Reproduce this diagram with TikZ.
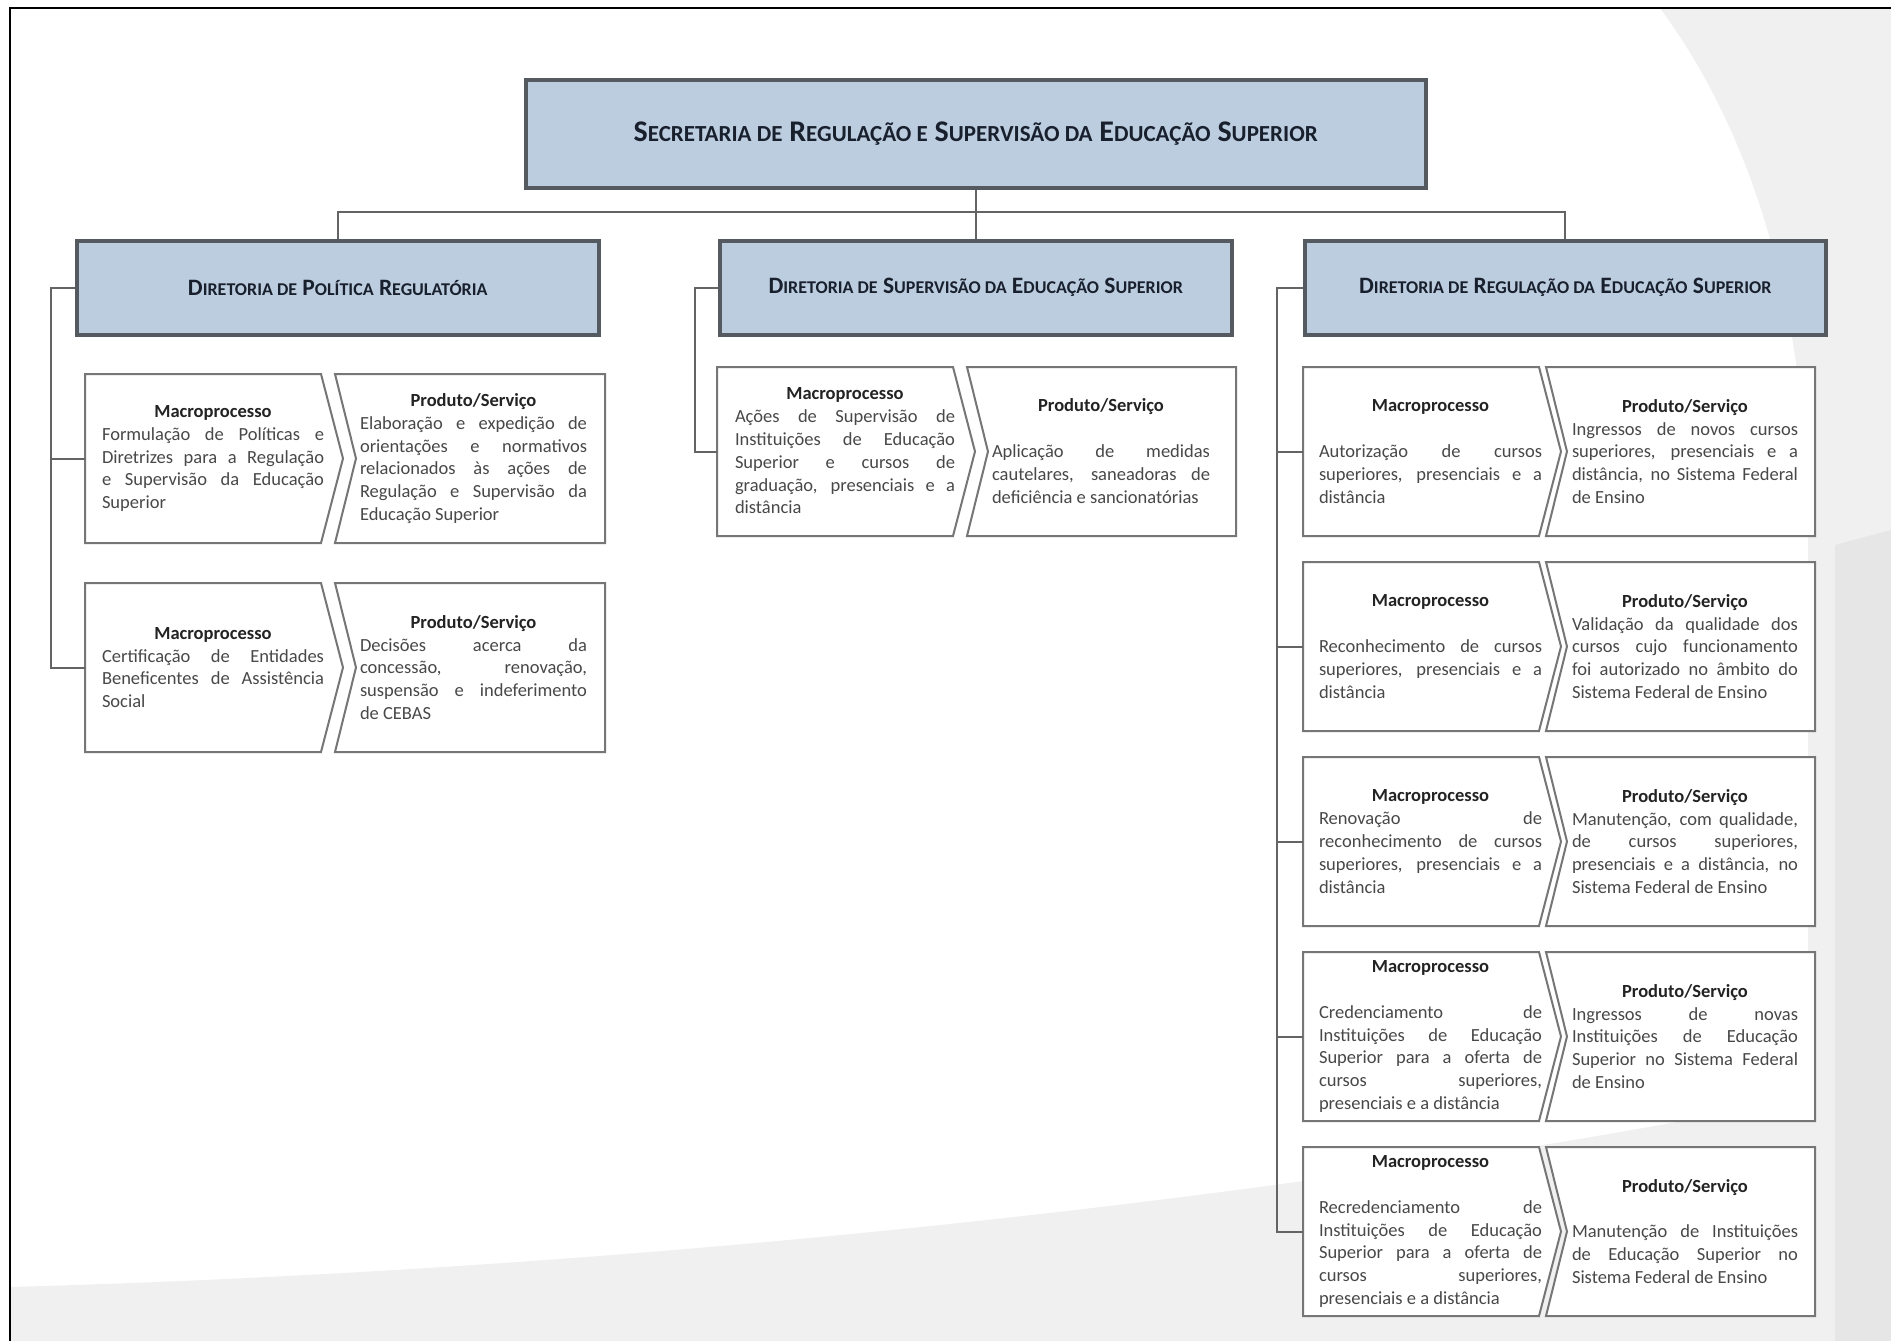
\documentclass[tikz,border=0pt]{standalone}
\usepackage{fontspec}
\setmainfont{Carlito}
\definecolor{dirfill}{RGB}{189,205,224}
\definecolor{dirline}{RGB}{85,90,97}
\definecolor{rowline}{RGB}{118,118,118}
\definecolor{treeline}{RGB}{100,100,100}
\definecolor{bodytext}{RGB}{72,72,72}
\definecolor{headtext}{RGB}{35,35,35}
\definecolor{titletext}{RGB}{25,32,45}
\definecolor{swoosh}{RGB}{240,240,240}
\definecolor{swooshdk}{RGB}{230,230,230}
\newcommand\SCt[1]{{\fontsize{23}{28}\selectfont #1}}
\newcommand\SCd[1]{{\fontsize{18}{22}\selectfont #1}}
\newcommand\mhead{\makebox[\linewidth]{\color{headtext}\bfseries Macroprocesso}\par}
\newcommand\phead{\makebox[\linewidth]{\color{headtext}\bfseries Produto/Serviço}\par}
\newcommand\blankline{\mbox{}\par}
\newcommand\pairbox[5]{%
  \node[shapebox, minimum width=236, anchor=north west] (#1m) at (#2,#3) {};
  \node[shapebox, minimum width=#4, anchor=north west] (#1p) at (#2+#5,#3) {};
  \draw[rowbox] (#1m.north west) -- (#1m.north east) -- ([xshift=22]#1m.east) -- (#1m.south east) -- (#1m.south west) -- cycle;
  \draw[rowbox] (#1p.north west) -- (#1p.north east) -- (#1p.south east) -- (#1p.south west) -- ([xshift=21]#1p.west) -- cycle;
}
\tikzset{
  shapebox/.style={inner sep=0, outer sep=0, minimum height=169, draw=none},
  rowbox/.style={draw=rowline, line width=2, fill=white, line join=miter},
  dirbox/.style={draw=dirline, line width=3.5, fill=dirfill, minimum height=94, inner sep=0, anchor=north west, font=\fontsize{23.5}{27}\selectfont\bfseries, text=titletext},
  mtext/.style={inner sep=0, align=justify, font=\fontsize{18.5}{22.8}\selectfont, text=bodytext, anchor=center},
  tree/.style={draw=treeline, line width=2}
}
\begin{document}
\begin{tikzpicture}[x=1pt, y=-1pt]
\useasboundingbox (0,0) rectangle (1891,1341);
\fill[white] (0,0) rectangle (1891,1341);
% background swooshes
\fill[swoosh] (1660,8) .. controls (1750,130) and (1805,300) .. (1808,520) -- (1808,1341) -- (1891,1341) -- (1891,8) -- cycle;
\fill[swoosh] (10,1287) .. controls (700,1268) and (1400,1185) .. (1891,1080) -- (1891,1341) -- (10,1341) -- cycle;
\fill[swooshdk] (1835,545) -- (1891,530) -- (1891,1341) -- (1835,1341) -- cycle;
% frame
\draw[black, line width=2.5] (10,1341) -- (10,8) -- (1891,8);

% directorates
\node[dirbox, minimum width=900, minimum height=108, font=\fontsize{30}{34}\selectfont\bfseries] (top) at (524,78)
  {S\SCt{ECRETARIA DE} R\SCt{EGULAÇÃO E} S\SCt{UPERVISÃO DA} E\SCt{DUCAÇÃO} S\SCt{UPERIOR}};
\node[dirbox, minimum width=522] (dirL) at (75,239) {D\SCd{IRETORIA DE} P\SCd{OLÍTICA} R\SCd{EGULATÓRIA}};
\node[dirbox, minimum width=512] (dirM) at (718,239) {D\SCd{IRETORIA DE} S\SCd{UPERVISÃO DA} E\SCd{DUCAÇÃO} S\SCd{UPERIOR}};
\node[dirbox, minimum width=521] (dirR) at (1303,239) {D\SCd{IRETORIA DE} R\SCd{EGULAÇÃO DA} E\SCd{DUCAÇÃO} S\SCd{UPERIOR}};

% left column
\pairbox{a}{85}{374}{270}{250}
\node[mtext, text width=222] (atm) at (213,458.5) {\mhead Formulação de Políticas e\linebreak Diretrizes para a Regulação\linebreak e Supervisão da Educação\linebreak Superior};
\node[mtext, text width=227] (atp) at (473.5,458.5) {\phead Elaboração e expedição de\linebreak orientações e normativos\linebreak relacionados às ações de\linebreak Regulação e Supervisão da\linebreak Educação Superior};
\pairbox{b}{85}{583}{270}{250}
\node[mtext, text width=222] (btm) at (213,667.5) {\mhead Certificação de Entidades\linebreak Beneficentes de Assistência\linebreak Social};
\node[mtext, text width=227] (btp) at (473.5,667.5) {\phead Decisões acerca da\linebreak concessão, renovação,\linebreak suspensão e indeferimento\linebreak de CEBAS};

% middle column
\pairbox{c}{717}{367}{269}{250}
\node[mtext, text width=220] (ctm) at (845,451) {\mhead Ações de Supervisão de\linebreak Instituições de Educação\linebreak Superior e cursos de\linebreak graduação, presenciais e a\linebreak distância};
\node[mtext, text width=218] (ctp) at (1101,451) {\phead\blankline Aplicação de medidas\linebreak cautelares, saneadoras de\linebreak deficiência e sancionatórias};

% right column
\pairbox{d}{1303}{367}{269}{243}
\node[mtext, text width=223] (dtm) at (1430.5,451.5) {\mhead\blankline Autorização de cursos\linebreak superiores, presenciais e a\linebreak distância};
\node[mtext, text width=226] (dtp) at (1685,451.5) {\phead Ingressos de novos cursos\linebreak superiores, presenciais e a\linebreak distância, no Sistema Federal\linebreak de Ensino};
\pairbox{e}{1303}{562}{269}{243}
\node[mtext, text width=223] (etm) at (1430.5,646.5) {\mhead\blankline Reconhecimento de cursos\linebreak superiores, presenciais e a\linebreak distância};
\node[mtext, text width=226] (etp) at (1685,646.5) {\phead Validação da qualidade dos\linebreak cursos cujo funcionamento\linebreak foi autorizado no âmbito do\linebreak Sistema Federal de Ensino};
\pairbox{f}{1303}{757}{269}{243}
\node[mtext, text width=223] (ftm) at (1430.5,841.5) {\mhead Renovação de\linebreak reconhecimento de cursos\linebreak superiores, presenciais e a\linebreak distância};
\node[mtext, text width=226] (ftp) at (1685,841.5) {\phead Manutenção, com qualidade,\linebreak de cursos superiores,\linebreak presenciais e a distância, no\linebreak Sistema Federal de Ensino};
\pairbox{g}{1303}{952}{269}{243}
\node[mtext, text width=223] (gtm) at (1430.5,1036.5) {\mhead\blankline Credenciamento de\linebreak Instituições de Educação\linebreak Superior para a oferta de\linebreak cursos superiores,\linebreak presenciais e a distância};
\node[mtext, text width=226] (gtp) at (1685,1036.5) {\phead Ingressos de novas\linebreak Instituições de Educação\linebreak Superior no Sistema Federal\linebreak de Ensino};
\pairbox{h}{1303}{1147}{269}{243}
\node[mtext, text width=223] (htm) at (1430.5,1231.5) {\mhead\blankline Recredenciamento de\linebreak Instituições de Educação\linebreak Superior para a oferta de\linebreak cursos superiores,\linebreak presenciais e a distância};
\node[mtext, text width=226] (htp) at (1685,1231.5) {\phead\blankline Manutenção de Instituições\linebreak de Educação Superior no\linebreak Sistema Federal de Ensino};

% connectors
\coordinate (hbar) at (974,212);
\draw[tree] (dirL.north) |- (hbar) -| (dirR.north);
\draw[tree] (top.south) -- (dirM.north);
\coordinate (lx) at (51,286);
\draw[tree] (dirL.west) -| (lx |- bm.west) -- (bm.west);
\draw[tree] (am.west) -- (am.west -| lx);
\coordinate (mx) at (695,286);
\draw[tree] (dirM.west) -| (mx |- cm.west) -- (cm.west);
\coordinate (rx) at (1277,286);
\draw[tree] (dirR.west) -| (rx |- hm.west) -- (hm.west);
\draw[tree] (dm.west) -- (dm.west -| rx);
\draw[tree] (em.west) -- (em.west -| rx);
\draw[tree] (fm.west) -- (fm.west -| rx);
\draw[tree] (gm.west) -- (gm.west -| rx);
\end{tikzpicture}
\end{document}
